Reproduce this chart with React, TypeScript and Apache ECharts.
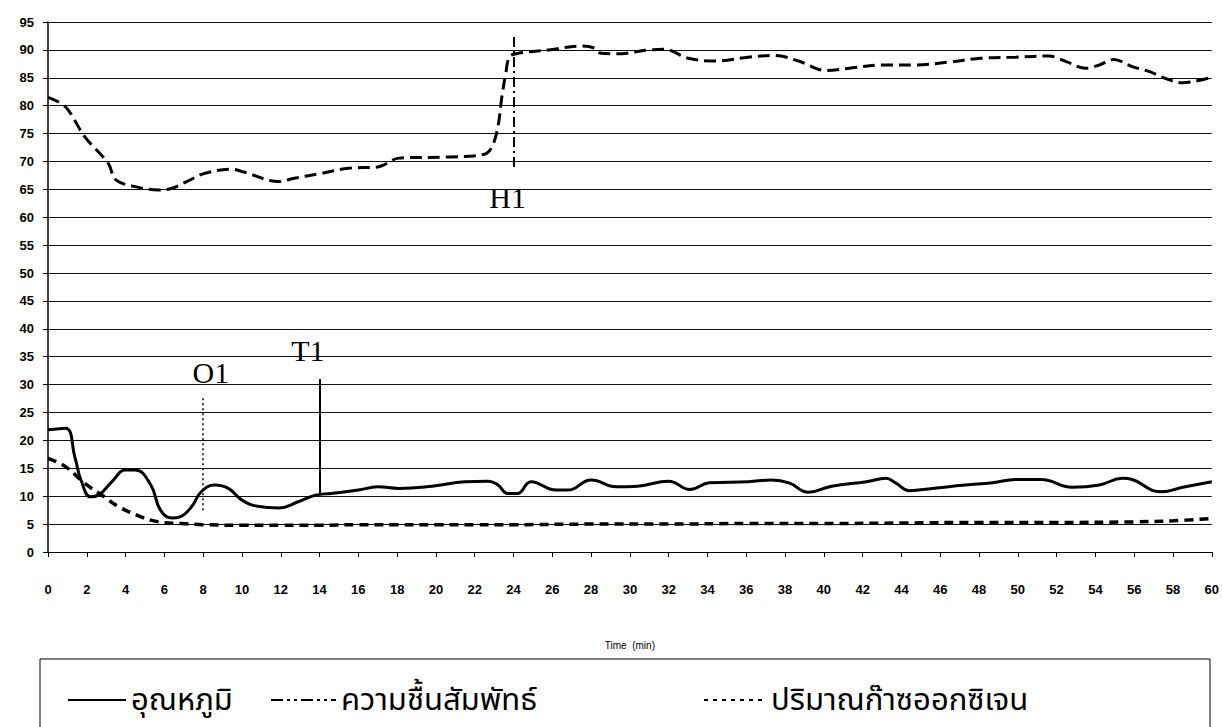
import React, { useEffect, useRef } from "react";
import * as echarts from "echarts";

// ---- data ----
const humT = [0, 0.9, 1.9, 3.1, 3.5, 4.6, 5.7, 6.4, 7.1, 8.1, 9.5, 10.1, 11.9, 12.7, 14, 15.5, 17, 18.1, 20.6, 22.5, 22.9, 23.2, 23.4, 23.6, 23.8, 24.25, 25.8, 27.5, 28.2, 28.5, 29.3, 31, 31.8, 33, 34.4, 36.1, 37.5, 38.7, 40.1, 41.3, 43, 44.7, 46.4, 48.1, 49.9, 51.6, 52.5, 53.5, 54.2, 54.95, 55.9, 56.8, 57.6, 58.5, 59.3, 60];
const humV = [81.5, 79.8, 74.4, 69.7, 66.7, 65.4, 64.9, 65.2, 66.3, 67.9, 68.6, 68.1, 66.4, 67, 67.8, 68.8, 69, 70.6, 70.8, 71.3, 72.7, 76.3, 81.6, 85.8, 88.8, 89.4, 90, 90.7, 90.3, 89.4, 89.3, 90, 90.1, 88.5, 88, 88.7, 89, 88, 86.3, 86.7, 87.3, 87.3, 87.8, 88.5, 88.7, 88.9, 87.9, 86.7, 87.3, 88.3, 87, 86.1, 84.9, 84.1, 84.5, 85.1];

const tempT = [0, 0.9, 1.4, 1.7, 2.2, 2.6, 3.3, 4.0, 4.5, 5.3, 5.8, 6.4, 6.8, 7.4, 7.9, 8.6, 9.3, 10, 10.8, 11.9, 12.9, 13.8, 14.6, 16, 17, 18.1, 19.8, 21.5, 22.7, 23.2, 23.7, 24.2, 24.9, 26.2, 26.8, 28, 29.3, 30.4, 32, 33.1, 34.1, 36.1, 37.3, 38.2, 39.2, 40.4, 42.2, 43.2, 43.7, 44.4, 45.6, 47.3, 48.7, 49.9, 51.2, 52.8, 54.2, 55.4, 55.9, 56.9, 57.4, 58.5, 60];
const tempV = [21.9, 22.2, 16.8, 12.9, 9.9, 10.2, 12.6, 14.7, 14.7, 12, 7.5, 6.1, 6.3, 8.1, 10.8, 12, 11.4, 9.3, 8.2, 7.9, 9, 10.2, 10.5, 11.1, 11.7, 11.4, 11.8, 12.6, 12.7, 12, 10.5, 10.5, 12.6, 11.1, 11.1, 12.9, 11.7, 11.8, 12.7, 11.2, 12.4, 12.6, 12.9, 12.4, 10.7, 11.8, 12.6, 13.2, 12.4, 11, 11.4, 12, 12.4, 13, 13, 11.6, 12, 13.2, 13, 11.1, 10.8, 11.6, 12.6];

const oxyT = [0, 0.9, 1.9, 2.9, 3.6, 4.8, 5.7, 6.9, 8, 10, 12, 14, 16, 18, 20, 22, 24, 28, 32, 36, 40, 44, 48, 52, 56, 58, 60];
const oxyV = [16.8, 15.3, 12.3, 9.9, 8.2, 6.3, 5.4, 5.1, 4.9, 4.8, 4.8, 4.8, 4.9, 4.9, 4.9, 4.9, 4.9, 5, 5, 5.1, 5.1, 5.2, 5.3, 5.3, 5.4, 5.6, 6];

const seriesNames = ["อุณหภูมิ", "ความชื้นสัมพัทธ์", "ปริมาณก๊าซออกซิเจน"];
const xTitle = "Time  (min)";

// annotation markers
const markerNames = ["O1", "T1", "H1"];
const markerX = [8, 14, 24];
const markerFrom = [7.5, 10.5, 69];
const markerTo = [27.7, 31, 93];
const markerLabelX = [8.4, 13.4, 23.7];
const markerLabelY = [32.2, 36.2, 63.6];

const zip = (a: number[], b: number[]) => a.map((v, i) => [v, b[i]]);

export default function App() {
  const ref = useRef<HTMLDivElement>(null);
  useEffect(() => {
    const chart = echarts.init(ref.current!, null, { renderer: "svg" });
    const markerStyles = [
      { type: [2, 3], width: 1.5 },
      { type: "solid", width: 2 },
      { type: [10, 4, 2, 4], width: 2 },
    ];
    const thaiFont = "'Noto Sans Thai', 'Noto Sans', 'DejaVu Sans', sans-serif";
    const hidden = { color: "transparent", borderColor: "transparent", borderWidth: 0, opacity: 0 };
    const legendBase = {
      top: 678,
      itemWidth: 58,
      itemHeight: 14,
      itemGap: 0,
      selectedMode: false,
      textStyle: { fontSize: 31, color: "#000", fontFamily: thaiFont, lineHeight: 34 },
    };
    const axisFont = "'Liberation Sans', Arial, sans-serif";
    chart.setOption({
      animation: false,
      backgroundColor: "#fff",
      grid: { left: 48, right: 9, top: 22, bottom: 175, containLabel: false },
      xAxis: {
        type: "value",
        min: 0,
        max: 60,
        interval: 2,
        name: xTitle,
        nameLocation: "middle",
        nameGap: 88,
        nameTextStyle: { fontSize: 10, color: "#000", fontFamily: axisFont },
        axisLine: { lineStyle: { color: "#000", width: 1 } },
        axisTick: { show: true, length: 5, lineStyle: { color: "#000" } },
        axisLabel: { margin: 31, fontSize: 13, fontWeight: "bold", color: "#000", fontFamily: axisFont },
        splitLine: { show: false },
      },
      yAxis: {
        type: "value",
        min: 0,
        max: 95,
        interval: 5,
        axisLine: { show: true, lineStyle: { color: "#000", width: 1.5 } },
        axisTick: { show: true, length: 5, lineStyle: { color: "#000" } },
        axisLabel: { margin: 14, fontSize: 13, fontWeight: "bold", color: "#000", fontFamily: axisFont },
        splitLine: { show: true, lineStyle: { color: "#111", width: 1 } },
      },
      legend: [
        { ...legendBase, left: 62, data: [{ name: seriesNames[0], itemStyle: hidden, lineStyle: { type: "solid", width: 2 } }] },
        { ...legendBase, left: 265, itemWidth: 65, data: [{ name: seriesNames[1], itemStyle: hidden, lineStyle: { type: [12, 4, 3, 4, 3, 4], width: 2 } }] },
        { ...legendBase, left: 698, itemWidth: 62, data: [{ name: seriesNames[2], itemStyle: hidden, lineStyle: { type: [4, 5], width: 2 } }] },
      ],
      graphic: [
        {
          type: "rect",
          shape: { x: 40, y: 659, width: 1170, height: 90 },
          style: { fill: "none", stroke: "#000", lineWidth: 1 },
          silent: true,
        },
      ],
      series: [
        {
          name: seriesNames[0],
          type: "line",
          data: zip(tempT, tempV),
          symbol: "none",
          smooth: 0.45,
          lineStyle: { color: "#000", width: 3, type: "solid" },
          itemStyle: { color: "#000" },
          z: 3,
          markLine: {
            silent: true,
            symbol: "none",
            label: { show: false },
            data: markerNames.map((n, i) => [
              { coord: [markerX[i], markerFrom[i]], lineStyle: { color: "#000", ...markerStyles[i] } },
              { coord: [markerX[i], markerTo[i]] },
            ]),
          },
          markPoint: {
            silent: true,
            symbol: "circle",
            symbolSize: 0,
            label: {
              show: true,
              position: "inside",
              color: "#000",
              fontSize: 30,
              fontFamily: "'Liberation Serif', 'Times New Roman', serif",
              formatter: (p: any) => p.name,
            },
            data: markerNames.map((n, i) => ({ name: n, coord: [markerLabelX[i], markerLabelY[i]] })),
          },
        },
        {
          name: seriesNames[1],
          type: "line",
          data: zip(humT, humV),
          symbol: "none",
          smooth: 0.35,
          lineStyle: { color: "#000", width: 3, type: [12, 6] },
          itemStyle: { color: "#000" },
          z: 3,
        },
        {
          name: seriesNames[2],
          type: "line",
          data: zip(oxyT, oxyV),
          symbol: "none",
          smooth: 0.4,
          lineStyle: { color: "#000", width: 3.5, type: [9, 6] },
          itemStyle: { color: "#000" },
          z: 3,
        },
      ],
    });
    return () => chart.dispose();
  }, []);
  return (
    <div
      ref={ref}
      style={{ position: "fixed", left: 0, top: 0, width: 1222, height: 727, background: "#fff" }}
    />
  );
}
